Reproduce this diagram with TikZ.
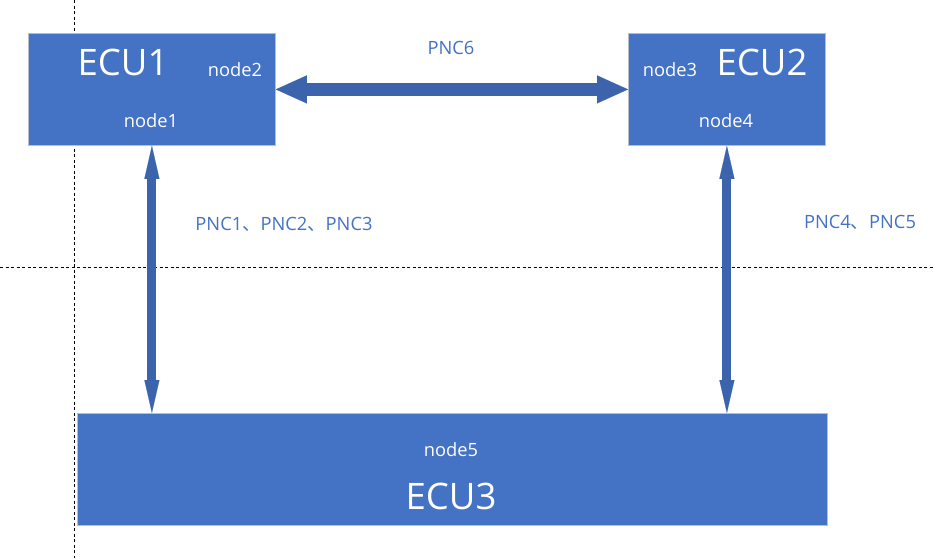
\documentclass[tikz,border=0pt]{standalone}
\usepackage{fontspec}
\setmainfont{Open Sans}
\newfontfamily\cjk{Noto Sans CJK SC}
\usetikzlibrary{arrows.meta}
\definecolor{boxblue}{HTML}{4472C4}
\definecolor{arrowblue}{HTML}{3B64AD}
\definecolor{boxedge}{HTML}{B4BECC}
\tikzset{
  ecubox/.style={draw=boxedge, line width=0.8pt, fill=boxblue, inner sep=0pt, anchor=north west},
  bigtxt/.style={text=white, font=\fontsize{36.5}{40}\selectfont, inner sep=0pt},
  smalltxt/.style={text=white, font=\fontsize{18.3}{21}\selectfont, inner sep=0pt},
  pnctxt/.style={text=boxblue, font=\fontsize{18.3}{21}\selectfont, inner sep=0pt},
  guide/.style={draw=black, line width=0.8pt, dash pattern=on 3pt off 2.5pt},
  harrow/.style={draw=arrowblue, line width=13pt, {Triangle[width=28pt,length=31pt,line width=0.1pt]}-{Triangle[width=28pt,length=31pt,line width=0.1pt]}},
  varrow/.style={draw=arrowblue, line width=9pt, {Triangle[width=15pt,length=33pt,line width=0.1pt]}-{Triangle[width=15pt,length=33pt,line width=0.1pt]}}
}
\begin{document}
\begin{tikzpicture}[x=1pt, y=-1pt]
\useasboundingbox (0,0) rectangle (933,558);
\fill[white] (0,0) rectangle (933,558);
% guide lines
\coordinate (gvt) at (74,0);
\coordinate (gvb) at (74,558);
\coordinate (ghl) at (0,267);
\coordinate (ghr) at (933,267);
\draw[guide] (gvt) -- (gvb);
\draw[guide] (ghl) -- (ghr);
% boxes
\node[ecubox, minimum width=247pt, minimum height=112pt] (ecu1) at (28,33) {};
\node[ecubox, minimum width=197pt, minimum height=112pt] (ecu2) at (628,33) {};
\node[ecubox, minimum width=750pt, minimum height=112pt] (ecu3) at (77,413) {};
% texts
\node[bigtxt] (t1) at (123,62) {ECU1};
\node[bigtxt] (t2) at (762,62) {ECU2};
\node[bigtxt] (t3) at (451,496) {ECU3};
\node[smalltxt] (n2) at (235,70) {node2};
\node[smalltxt] (n1) at (151,121) {node1};
\node[smalltxt] (n3) at (670,70) {node3};
\node[smalltxt] (n4) at (726,121) {node4};
\node[smalltxt] (n5) at (451,450) {node5};
\node[pnctxt] (p6) at (451,48) {PNC6};
\node[pnctxt] (p123) at (284,224) {PNC1{\cjk 、}PNC2{\cjk 、}PNC3};
\node[pnctxt] (p45) at (860,222) {PNC4{\cjk 、}PNC5};
% arrows
\draw[harrow] (ecu1.east) -- (ecu2.west);
\draw[varrow] (ecu1.south) -- (ecu1.south |- ecu3.north);
\draw[varrow] (ecu2.south) -- (ecu2.south |- ecu3.north);
\end{tikzpicture}
\end{document}
